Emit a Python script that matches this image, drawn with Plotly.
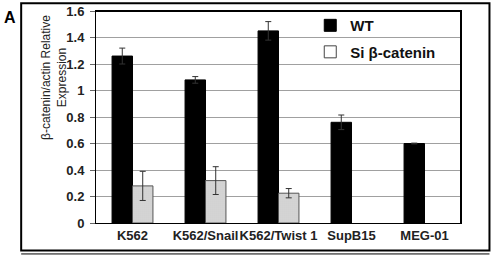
import plotly.graph_objects as go

categories = ["K562", "K562/Snail", "K562/Twist 1", "SupB15", "MEG-01"]
wt_values = [1.26, 1.08, 1.45, 0.76, 0.60]
wt_errors = [0.06, 0.025, 0.07, 0.055, 0.003]
si_values = [0.28, 0.32, 0.225, None, None]
si_errors = [0.11, 0.105, 0.035, None, None]
y_ticks = [0, 0.2, 0.4, 0.6, 0.8, 1.0, 1.2, 1.4, 1.6]
y_ticklabels = ["0", "0.2", "0.4", "0.6", "0.8", "1", "1.2", "1.4", "1.6"]

fig = go.Figure()
fig.add_trace(go.Bar(
    x=categories, y=wt_values, name="WT", offsetgroup="wt", showlegend=False,
    marker=dict(color="black", line=dict(color="black", width=1)),
    error_y=dict(type="data", array=wt_errors, color="#333", thickness=1, width=3),
))
fig.add_trace(go.Bar(
    x=categories, y=si_values, name="Si β-catenin", offsetgroup="si", showlegend=False,
    marker=dict(color="#d8d8d8", line=dict(color="#555", width=1),
                pattern=dict(shape=".", fgcolor="#8a8a8a", bgcolor="#e4e4e4", size=2, solidity=0.4)),
    error_y=dict(type="data", array=si_errors, color="#333", thickness=1, width=3),
))
# legend entries
fig.add_trace(go.Bar(x=[categories[0]], y=[None], name="WT", offsetgroup="wt",
                     legendgroup="a", marker=dict(color="black", line=dict(color="black", width=1))))
fig.add_trace(go.Bar(x=[categories[0]], y=[None], name="Si β-catenin", offsetgroup="si",
                     legendgroup="b", marker=dict(color="white", line=dict(color="#444", width=1))))

fig.update_layout(
    width=494, height=259,
    margin=dict(l=96, r=33, t=11, b=36, autoexpand=False),
    paper_bgcolor="white", plot_bgcolor="white",
    barmode="group", bargap=0.44, bargroupgap=0,
    font=dict(family="Liberation Sans, Arial, sans-serif", color="#222"),
    showlegend=True,
    legend=dict(x=0.587, y=1.009, xanchor="left", yanchor="top", bgcolor="rgba(0,0,0,0)",
                font=dict(size=15, color="#111", family="Liberation Sans, Arial, sans-serif", weight="bold"),
                traceorder="grouped", tracegroupgap=4, itemwidth=30),
    xaxis=dict(showline=True, linecolor="black", linewidth=1, mirror=True, tickangle=0, automargin=False,
               tickfont=dict(size=13, weight="bold", color="#222"), ticks="", ticklen=0),
    yaxis=dict(range=[0, 1.6], tickvals=y_ticks, ticktext=y_ticklabels, automargin=False,
               showgrid=True, gridcolor="#a0a0a0", gridwidth=1,
               showline=True, linecolor="black", linewidth=1, mirror=True,
               ticks="outside", ticklen=5, tickcolor="#666", ticklabelstandoff=3,
               tickfont=dict(size=13, weight="bold", color="#222"),
               zeroline=False),
)
# y-axis title (placed above axis centre, as in the original)
fig.add_annotation(text="β-catenin/actin Relative<br>Expression", xref="paper", yref="paper",
                   x=-0.115, y=0.684, textangle=-90, showarrow=False,
                   font=dict(size=12, color="#222"), xanchor="center", yanchor="middle")
# thicker top/right border of plot
fig.add_shape(type="line", xref="paper", yref="paper", x0=0, x1=1, y0=1, y1=1,
              line=dict(color="black", width=2))
fig.add_shape(type="line", xref="paper", yref="paper", x0=1, x1=1, y0=0, y1=1,
              line=dict(color="black", width=2))
# outer frame
fig.add_shape(type="rect", xref="paper", yref="paper",
              x0=-0.205, x1=1.078, y0=-0.13, y1=1.037, line=dict(color="black", width=2))
fig.add_shape(type="line", xref="paper", yref="paper", x0=-0.205, x1=1.078, y0=-0.146, y1=-0.146,
              line=dict(color="black", width=1))
fig.add_annotation(text="<b>A</b>", xref="paper", yref="paper", x=-0.235, y=0.97,
                   showarrow=False, font=dict(size=16, color="black"), xanchor="center", yanchor="middle")

fig.write_html("out.html", config={"displayModeBar": False},
               post_script="document.body.style.margin='0';document.body.style.overflow='hidden';")
